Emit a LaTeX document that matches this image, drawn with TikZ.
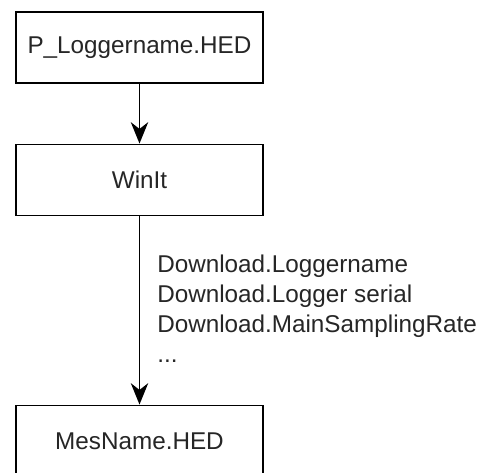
\documentclass[tikz,border=0pt]{standalone}
\usepackage{fontspec}
\setmainfont{Liberation Sans}
\usetikzlibrary{arrows.meta}
\begin{document}
\begin{tikzpicture}[x=0.75pt,y=-0.75pt,
  box/.style={draw=black,line width=1.4pt,minimum width=247*0.75pt,minimum height=71*0.75pt,inner sep=0pt,font=\fontsize{18.2}{21}\selectfont,text=black!85},
  conn/.style={draw=black,line width=1.4pt,-{Stealth[length=16pt,width=13pt,inset=5pt]}},
  lbl/.style={font=\fontsize{18.2}{22.5}\selectfont,text=black!85,align=left,inner sep=0pt}]
\useasboundingbox (0,0) rectangle (482,473);
\fill[white] (0,0) rectangle (482,473);
\node[box] (p) at (139.5,47.5) {P\_Loggername.HED};
\node[box] (w) at (139.5,180) {WinIt};
\node[box] (m) at (139.5,441) {MesName.HED};
\draw[conn] (p) -- (w);
\draw[conn] (w) -- (m);
\node[lbl,anchor=base west] (t) at (157,363) {Download.Loggername\\Download.Logger serial\\Download.MainSamplingRate\\...};
\end{tikzpicture}
\end{document}
